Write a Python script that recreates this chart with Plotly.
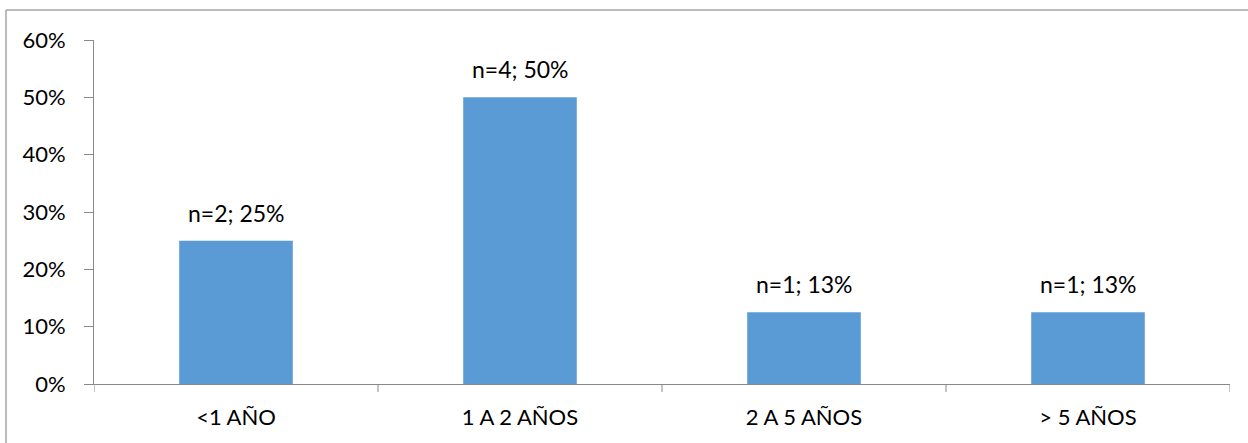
import plotly.graph_objects as go

categories = ["<1 AÑO", "1 A 2 AÑOS", "2 A 5 AÑOS", "> 5 AÑOS"]
counts = [2, 4, 1, 1]
shares = [0.25, 0.50, 0.125, 0.125]
bar_labels = ["n=2; 25%", "n=4; 50%", "n=1; 13%", "n=1; 13%"]
y_ticks = [0, 0.1, 0.2, 0.3, 0.4, 0.5, 0.6]
y_tick_text = ["0%", "10%", "20%", "30%", "40%", "50%", "60%"]

W, H = 1248, 443
L, R, T, B = 94, 18, 40, 59
FONT = "Lato, 'Open Sans', sans-serif"
FSIZE = 22
AXIS_COLOR = "#898989"

fig = go.Figure()
fig.add_trace(go.Bar(
    x=list(range(len(categories))),
    y=shares,
    width=0.4,
    marker=dict(color="#5B9BD5", line=dict(width=0)),
    customdata=counts,
    hovertemplate="%{customdata}<extra></extra>",
))

# value labels above each bar
for i, (v, lab) in enumerate(zip(shares, bar_labels)):
    fig.add_annotation(x=i, y=v, xref="x", yref="y", text=lab,
                       showarrow=False, yanchor="bottom", yshift=12,
                       font=dict(family=FONT, size=23, color="#000000"))

# frame around the chart area (open on the right and bottom)
pw = W - L - R
ph = H - T - B
x0 = (6 - L) / pw
y_top = 1 + (T - 10) / ph
fig.add_shape(type="line", xref="paper", yref="paper",
              x0=x0, x1=1 + (R + 5) / pw, y0=y_top, y1=y_top,
              line=dict(color="#A6A6A6", width=1.5))
fig.add_shape(type="line", xref="paper", yref="paper",
              x0=x0, x1=x0, y0=y_top, y1=-(B + 5) / ph,
              line=dict(color="#A6A6A6", width=1.5))

fig.update_layout(
    width=W, height=H,
    margin=dict(l=L, r=R, t=T, b=B),
    paper_bgcolor="white", plot_bgcolor="white",
    showlegend=False,
    bargap=0.6,
    xaxis=dict(
        range=[-0.5, 3.5],
        tickvals=list(range(len(categories))),
        ticktext=categories,
        showgrid=False, zeroline=False,
        showline=True, linecolor=AXIS_COLOR, linewidth=1,
        ticks="", ticklabelstandoff=14,
        tickfont=dict(family=FONT, size=FSIZE, color="#000000"),
    ),
    yaxis=dict(
        range=[0, 0.6],
        tickvals=y_ticks, ticktext=y_tick_text,
        showgrid=False, zeroline=False,
        showline=True, linecolor=AXIS_COLOR, linewidth=1,
        ticks="outside", ticklen=9, tickcolor=AXIS_COLOR,
        ticklabelstandoff=14,
        tickfont=dict(family=FONT, size=FSIZE, color="#000000"),
    ),
)

# category boundary ticks below the x axis
for b in [-0.5, 0.5, 1.5, 2.5, 3.5]:
    fig.add_shape(type="line", xref="x", yref="paper",
                  x0=b, x1=b, y0=0, y1=-8 / ph,
                  line=dict(color=AXIS_COLOR, width=1))

fig.write_html("out.html")
